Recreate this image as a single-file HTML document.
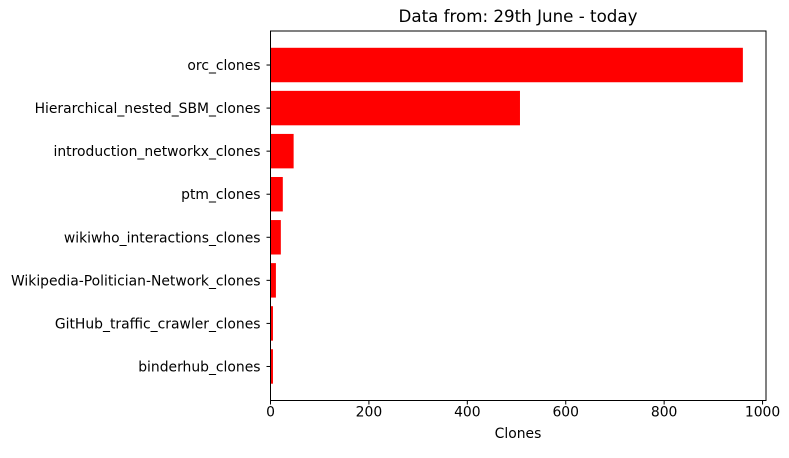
<!DOCTYPE html>
<html><head><meta charset="utf-8"><style>
body{margin:0;background:#fff;font-family:"Liberation Sans","DejaVu Sans",sans-serif}
</style></head><body>
<svg width="789" height="453" font-family="DejaVu Sans, Liberation Sans, sans-serif" font-size="13.9">
<rect width="789" height="453" fill="#fff"/>
<g id="plot"></g>
<text x="518" y="22" text-anchor="middle" font-size="16.7">Data from: 29th June - today</text>
<text x="518" y="438" text-anchor="middle">Clones</text>
</svg>
<script>
const categories=["orc_clones","Hierarchical_nested_SBM_clones","introduction_networkx_clones","ptm_clones","wikiwho_interactions_clones","Wikipedia-Politician-Network_clones","GitHub_traffic_crawler_clones","binderhub_clones"];
const values=[960,507,47,25,21,11,5,5];
const xTicks=[0,200,400,600,800,1000];
const L=270.5,R=766,T=31,B=400.5,X0=0,X1=1007;
const xs=v=>L+(v-X0)/(X1-X0)*(R-L);
const yc=i=>T+(0.39+0.4+i)*43*( (B-T)/(43*8.58) );
const ns="http://www.w3.org/2000/svg",g=document.getElementById('plot');
function mk(t,a){const e=document.createElementNS(ns,t);for(const k in a)e.setAttribute(k,a[k]);g.appendChild(e);return e;}
const bh=0.8*(yc(1)-yc(0));
categories.forEach((c,i)=>{
 const r=mk('rect',{x:xs(0),y:yc(i)-bh/2,width:xs(values[i])-xs(0),height:bh,fill:'#ff0000'});
 
 
 mk('line',{x1:L-4,x2:L,y1:yc(i),y2:yc(i),stroke:'#000','stroke-width':1});
 const t=mk('text',{x:L-10,y:yc(i)+5,'text-anchor':'end'});t.textContent=c;
 
 
});
xTicks.forEach(v=>{
 mk('line',{x1:xs(v),x2:xs(v),y1:B,y2:B+4,stroke:'#000','stroke-width':1});
 const t=mk('text',{x:xs(v),y:B+16,'text-anchor':'middle'});t.textContent=v;
 
 
});
const f=mk('rect',{x:L,y:T,width:R-L,height:B-T,fill:'none',stroke:'#000','stroke-width':1});


</script>
</body></html>
